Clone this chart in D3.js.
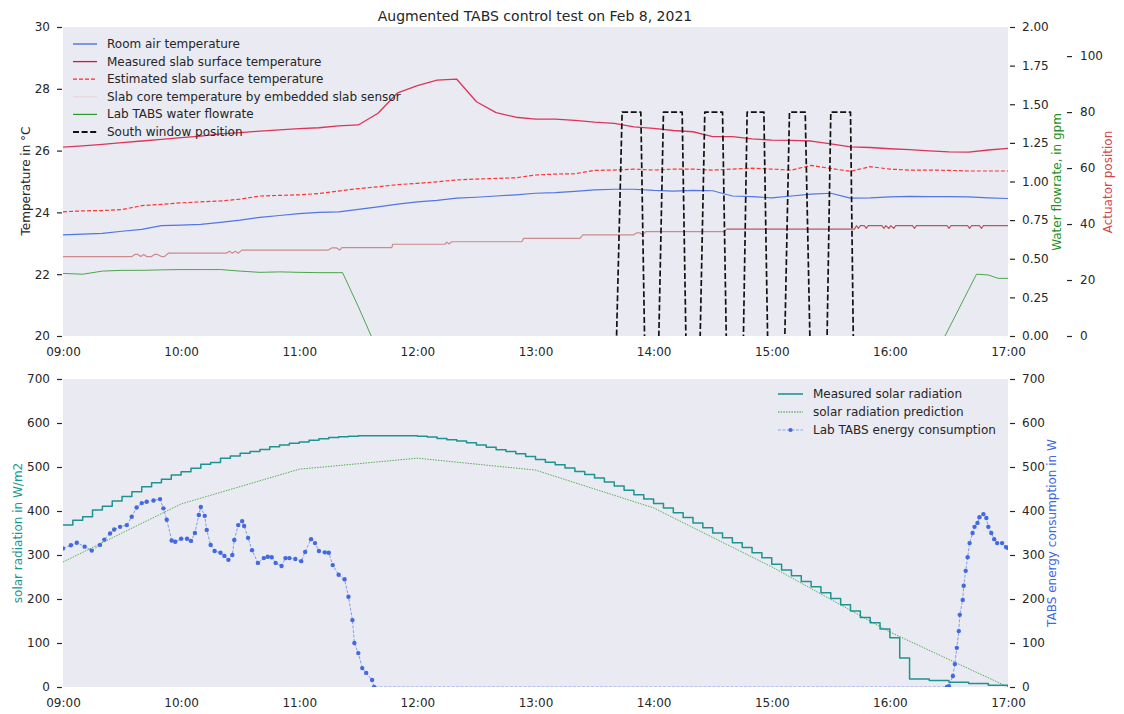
<!DOCTYPE html>
<html>
<head>
<meta charset="utf-8">
<script src="https://cdnjs.cloudflare.com/ajax/libs/d3/7.8.5/d3.min.js"></script>
<style>
  body { margin: 0; background: #fff; }
  svg text { font-family: "DejaVu Sans", sans-serif; fill: #262626; }
</style>
</head>
<body>
<div id="chart"></div>
<script>
// ---- data (times are minutes after 09:00) ----
var gridMinutes = [0,10,20,30,40,50,60,70,80,90,100,110,120,130,140,150,160,170,180,190,200,
  210,220,230,240,250,260,270,280,290,300,310,320,330,340,350,360,370,380,390,400,410,420,
  430,440,450,460,470,480];

var roomAir = [23.27,23.30,23.32,23.39,23.45,23.57,23.59,23.61,23.68,23.75,23.84,23.90,23.96,
  24.00,24.02,24.10,24.18,24.27,24.34,24.39,24.46,24.49,24.53,24.57,24.62,24.64,24.68,24.73,
  24.75,24.75,24.71,24.69,24.71,24.70,24.53,24.51,24.47,24.53,24.59,24.62,24.46,24.47,24.50,
  24.52,24.51,24.51,24.50,24.47,24.45];

var slabMeasured = [26.11,26.15,26.20,26.26,26.31,26.36,26.42,26.47,26.54,26.58,26.63,26.67,
  26.71,26.74,26.80,26.83,27.21,27.87,28.10,28.28,28.31,27.58,27.23,27.08,27.02,27.02,26.98,
  26.92,26.88,26.77,26.72,26.65,26.61,26.45,26.45,26.38,26.34,26.33,26.31,26.22,26.12,26.10,
  26.06,26.03,25.99,25.96,25.95,26.02,26.07];

var slabEstimated = [24.02,24.05,24.06,24.09,24.22,24.26,24.31,24.34,24.37,24.43,24.53,24.55,
  24.57,24.61,24.69,24.77,24.83,24.90,24.94,24.99,25.05,25.08,25.10,25.12,25.21,25.24,25.25,
  25.36,25.37,25.40,25.37,25.40,25.40,25.37,25.40,25.43,25.40,25.37,25.52,25.42,25.33,25.48,
  25.40,25.37,25.37,25.36,25.34,25.34,25.34];

var flowMinutes = [0,10,20,30,40,50,60,70,80,90,100,110,120,130,140,142,150,160,440,448,460,464,470,475,480];
var flowRate = [0.405,0.40,0.42,0.425,0.425,0.428,0.43,0.43,0.43,0.42,0.412,0.415,0.412,0.41,0.41,
  0.41,0.19,-0.1,-0.1,0.0,0.30,0.40,0.395,0.373,0.373];

var coreMinutes = [0,35,36.5,38,39.5,41,42.5,45,46.5,48,50,51.5,53.5,83,84.5,86,87.5,89,90.8,
  134.8,136.5,139,140.5,141.6,167,167.5,194,195,196,197.5,233,234,262.6,264,289.7,291.5,293,
  294.5,296,336,337,402,403,404,405,407,408,409,416,417,418,419.5,420.5,422,423,424.5,431.5,
  432.5,433.5,449,450,451,459.5,460.5,461.5,465.5,466.5,467.5,480];
var coreTemp = [22.57,22.57,22.64,22.64,22.57,22.64,22.57,22.57,22.64,22.64,22.57,22.57,22.68,
  22.68,22.74,22.68,22.74,22.68,22.78,22.78,22.85,22.85,22.78,22.86,22.86,22.97,22.97,23.04,
  22.98,23.05,23.05,23.16,23.16,23.27,23.27,23.34,23.34,23.27,23.38,23.38,23.46,23.46,23.57,
  23.48,23.57,23.57,23.48,23.57,23.57,23.48,23.57,23.48,23.57,23.48,23.57,23.57,23.57,23.48,
  23.57,23.57,23.48,23.57,23.57,23.48,23.57,23.57,23.48,23.57,23.57];

var windowMinutes = [0,281,284,293.5,295.5,302.5,305,314.5,316.5,323.5,326,335,337,345.5,347.5,
  356,358,366.5,369,377,379.5,388,390,400,401.5,480];
var windowPos = [-5,-5,80,80,-5,-5,80,80,-5,-5,80,80,-5,-5,80,80,-5,-5,80,80,-5,-5,80,80,-5,-5];

var solarMinutes = [0,5,10,15,20,25,30,35,40,45,50,55,60,65,70,75,80,85,90,95,100,105,110,115,
  120,125,130,135,140,145,150,155,160,165,170,175,180,185,190,195,200,205,210,215,220,225,230,
  235,240,245,250,255,260,265,270,275,280,285,290,295,300,305,310,315,320,325,330,335,340,345,
  350,355,360,365,370,375,380,385,390,395,400,405,410,415,420,425,430,440,450,460,470,480];
var solarMeasured = [368,379,387,402,411,423,433,444,455,464,472,482,489,497,506,510,520,525,
  531,535,540,546,550,554,557,561,564,567,569,570,571,571,571,571,571,571,570,568,565,562,559,
  555,550,545,539,535,530,524,517,511,505,498,490,483,475,466,457,447,437,427,417,407,396,385,
  373,362,350,339,328,317,305,294,279,266,253,240,228,214,201,187,173,158,146,132,112,66,18,
  15,11,8,4,0];

var predMinutes = [0,60,120,180,240,300,360,420,480];
var solarPredicted = [284,416,495,520,493,407,273,125,0];

var energyMinutes = [0,4,7,11,14.6,18.8,21,23.9,26,29,32.4,34.9,37.4,40,42.5,46,49.3,51,52.7,55.2,
  57,60,63,65,67,69,70,72,73,75,77,80,82,84,86,87,89,91,92,94,96,99,102,104,106,108,111,113,115,
  118,121,123,126,128,130,133,135,137,140,143,145,147,148,150,152,154,157,158,449,450,452,453,
  454,455,455.5,457,457.5,458.5,459.5,460.5,462,463,464.5,465.5,467.5,469,470,471.5,473,474.5,
  477,479,480];
var energyUse = [315,322,328,319,310,323,335,349,358,364,368,387,408,418,421,424,427,406,380,333,
  330,337,337,332,350,391,409,389,357,323,309,305,298,289,300,334,368,377,366,339,311,282,293,
  296,295,282,275,293,293,291,286,307,336,327,309,306,305,277,255,245,205,152,100,77,43,32,16,0,
  0,2,25,52,89,127,164,198,230,264,295,327,350,364,373,386,393,384,364,350,336,327,327,318,316];

var hourTicks = [0,60,120,180,240,300,360,420,480];
var hourLabels = ["09:00","10:00","11:00","12:00","13:00","14:00","15:00","16:00","17:00"];
var tempTicks = [20,22,24,26,28,30];
var flowTicks = [0,0.25,0.5,0.75,1,1.25,1.5,1.75,2];
var actuatorTicks = [0,20,40,60,80,100];
var wattTicks = [0,100,200,300,400,500,600,700];

// ---- layout ----
var W = 1124, H = 714;
var left = 63, right = 1008;
var top1 = 27, bot1 = 336, top2 = 379, bot2 = 687;

var svg = d3.select("#chart").append("svg")
    .attr("width", W).attr("height", H);

svg.append("rect").attr("width", W).attr("height", H).attr("fill", "#fff");

var x = d3.scaleLinear().domain([0, 480]).range([left, right]);

var yTemp = d3.scaleLinear().domain([20, 30]).range([bot1, top1]);
var yFlow = d3.scaleLinear().domain([0, 2]).range([bot1, top1]);
var yAct = d3.scaleLinear().domain([0, 110.4]).range([bot1, top1]);
var ySolar = d3.scaleLinear().domain([0, 700]).range([bot2, top2]);
var yEnergy = d3.scaleLinear().domain([0, 700]).range([bot2, top2]);

var defs = svg.append("defs");
defs.append("clipPath").attr("id", "clip1").append("rect")
    .attr("x", left).attr("y", top1).attr("width", right - left).attr("height", bot1 - top1);
defs.append("clipPath").attr("id", "clip2").append("rect")
    .attr("x", left).attr("y", top2).attr("width", right - left).attr("height", bot2 - top2);

// plot backgrounds
svg.append("rect").attr("x", left).attr("y", top1)
    .attr("width", right - left).attr("height", bot1 - top1).attr("fill", "#eaeaf2");
svg.append("rect").attr("x", left).attr("y", top2)
    .attr("width", right - left).attr("height", bot2 - top2).attr("fill", "#eaeaf2");

// axes helper
function styleAxis(g) {
    g.select(".domain").remove();
    g.selectAll(".tick line").attr("stroke", "#262626").attr("stroke-width", 1.2);
    g.selectAll(".tick text").style("font-size", "12px").attr("fill", "#262626");
}

var xAxis = d3.axisBottom(x).tickValues(hourTicks).tickSize(0).tickPadding(11)
    .tickFormat(function(d, i) { return hourLabels[i]; });

svg.append("g").attr("transform", "translate(0," + bot1 + ")").call(xAxis).call(styleAxis);
svg.append("g").attr("transform", "translate(0," + bot2 + ")").call(xAxis).call(styleAxis);

svg.append("g").attr("transform", "translate(" + (left - 1) + ",0)")
    .call(d3.axisLeft(yTemp).tickValues(tempTicks).tickSize(5).tickPadding(7)
        .tickFormat(d3.format("d")))
    .call(styleAxis);
svg.append("g").attr("transform", "translate(" + (right + 2) + ",0)")
    .call(d3.axisRight(yFlow).tickValues(flowTicks).tickSize(5).tickPadding(7)
        .tickFormat(d3.format(".2f")))
    .call(styleAxis);
svg.append("g").attr("transform", "translate(1067,0)")
    .call(d3.axisRight(yAct).tickValues(actuatorTicks).tickSize(5).tickPadding(8)
        .tickFormat(d3.format("d")))
    .call(styleAxis);

svg.append("g").attr("transform", "translate(" + (left - 1) + ",0)")
    .call(d3.axisLeft(ySolar).tickValues(wattTicks).tickSize(5).tickPadding(7))
    .call(styleAxis);
svg.append("g").attr("transform", "translate(" + (right + 2) + ",0)")
    .call(d3.axisRight(yEnergy).tickValues(wattTicks).tickSize(5).tickPadding(7))
    .call(styleAxis);

// axis titles
function vLabel(cx, cy, text, color) {
    svg.append("text")
        .attr("transform", "translate(" + cx + "," + cy + ") rotate(-90)")
        .attr("text-anchor", "middle").attr("dominant-baseline", "central")
        .style("font-size", "12px").style("fill", color)
        .text(text);
}
vLabel(26, 181, "Temperature in \u00B0C", "#262626");
vLabel(1057, 182, "Water flowrate, in gpm", "#1f8f1f");
vLabel(1108, 182, "Actuator position", "#d1474f");
vLabel(18, 533, "solar radiation in W/m2", "#1a9690");
vLabel(1052, 533, "TABS energy consumption in W", "#4169e1");

svg.append("text").attr("x", 535).attr("y", 21).attr("text-anchor", "middle")
    .style("font-size", "14px").text("Augmented TABS control test on Feb 8, 2021");

// ---- top plot lines ----
var g1 = svg.append("g").attr("clip-path", "url(#clip1)");

function drawLine(g, xs, ys, yScale, color, width, dash, opacity, curve) {
    var pts = xs.map(function(m, i) { return [m, ys[i]]; });
    var line = d3.line()
        .x(function(d) { return x(d[0]); })
        .y(function(d) { return yScale(d[1]); })
        .curve(curve || d3.curveLinear);
    return g.append("path").datum(pts)
        .attr("d", line)
        .attr("fill", "none")
        .attr("stroke", color)
        .attr("stroke-width", width)
        .attr("stroke-dasharray", dash || null)
        .attr("stroke-opacity", opacity == null ? 1 : opacity)
        .attr("stroke-linejoin", "round");
}

// slab core: paler before ~14:36, darker after
var splitIdx = coreMinutes.indexOf(337);
drawLine(g1, coreMinutes.slice(0, splitIdx + 1), coreTemp.slice(0, splitIdx + 1), yTemp, "#cc8a8e", 1.2);
drawLine(g1, coreMinutes.slice(splitIdx), coreTemp.slice(splitIdx), yTemp, "#b9585d", 1.2);

drawLine(g1, flowMinutes, flowRate, yFlow, "#2e9a2e", 1, null, 0.85);
drawLine(g1, gridMinutes, roomAir, yTemp, "#4169e1", 1.2, null, 0.9);
drawLine(g1, gridMinutes, slabMeasured, yTemp, "#dc143c", 1.3, null, 0.85);
drawLine(g1, gridMinutes, slabEstimated, yTemp, "#ff2a2a", 1.2, "4,2", 0.95);
drawLine(g1, windowMinutes, windowPos, yAct, "#111", 1.7, "6,2.6");

// top legend
var legend1 = [
    { label: "Room air temperature", color: "#4169e1", dash: null, w: 1.3 },
    { label: "Measured slab surface temperature", color: "#dc143c", dash: null, w: 1.3 },
    { label: "Estimated slab surface temperature", color: "#ff2a2a", dash: "4,2", w: 1.2 },
    { label: "Slab core temperature by embedded slab sensor", color: "#ead6da", dash: null, w: 1.3 },
    { label: "Lab TABS water flowrate", color: "#2e9a2e", dash: null, w: 1.2 },
    { label: "South window position", color: "#111", dash: "6,2.6", w: 1.8 }
];
var leg1 = svg.append("g");
legend1.forEach(function(d, i) {
    var yy = 44 + i * 17.6;
    leg1.append("line").attr("x1", 73).attr("x2", 97).attr("y1", yy).attr("y2", yy)
        .attr("stroke", d.color).attr("stroke-width", d.w).attr("stroke-dasharray", d.dash);
    leg1.append("text").attr("x", 107).attr("y", yy).attr("dominant-baseline", "central")
        .style("font-size", "12px").text(d.label);
});

// ---- bottom plot lines ----
var g2 = svg.append("g").attr("clip-path", "url(#clip2)");

drawLine(g2, predMinutes, solarPredicted, ySolar, "#2ca02c", 1, "1.5,1.2", 0.8);
drawLine(g2, solarMinutes, solarMeasured, ySolar, "#138f8a", 1.5, null, 0.95, d3.curveStepAfter);
drawLine(g2, energyMinutes, energyUse, yEnergy, "#4169e1", 1, "3,1.5", 0.6);

g2.selectAll(".dot").data(energyMinutes).enter().append("circle")
    .attr("class", "dot")
    .attr("cx", function(d) { return x(d); })
    .attr("cy", function(d, i) { return yEnergy(energyUse[i]); })
    .attr("r", 2.2)
    .attr("fill", "#4169e1");

// bottom legend
var leg2 = svg.append("g");
var legend2 = [
    { label: "Measured solar radiation", color: "#138f8a", dash: null, w: 1.5, dot: false },
    { label: "solar radiation prediction", color: "#2ca02c", dash: "1.5,1.2", w: 1, dot: false },
    { label: "Lab TABS energy consumption", color: "#4169e1", dash: "3,1.5", w: 0.9, dot: true }
];
legend2.forEach(function(d, i) {
    var yy = 394 + i * 18;
    leg2.append("line").attr("x1", 778).attr("x2", 803).attr("y1", yy).attr("y2", yy)
        .attr("stroke", d.color).attr("stroke-width", d.w).attr("stroke-dasharray", d.dash)
        .attr("stroke-opacity", d.dot ? 0.6 : 1);
    if (d.dot) {
        leg2.append("circle").attr("cx", 790.5).attr("cy", yy).attr("r", 2.1).attr("fill", d.color);
    }
    leg2.append("text").attr("x", 813).attr("y", yy).attr("dominant-baseline", "central")
        .style("font-size", "12px").text(d.label);
});
</script>
</body>
</html>
